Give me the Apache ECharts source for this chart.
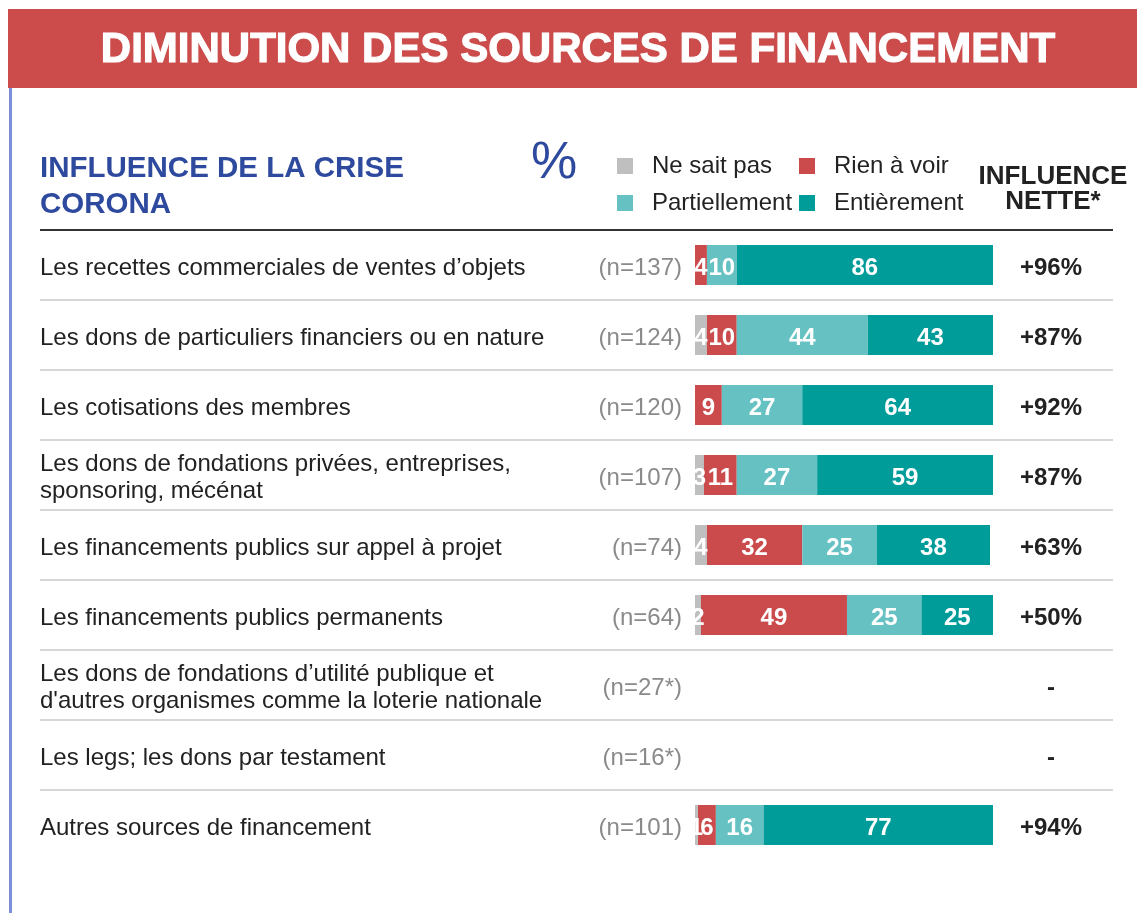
<!DOCTYPE html>
<html>
<head>
<meta charset="utf-8">
<script src="https://cdn.jsdelivr.net/npm/echarts@6/dist/echarts.min.js"></script>
<style>
  html, body { margin: 0; padding: 0; background: #ffffff; }
  #chart { width: 1137px; height: 913px; }
</style>
</head>
<body>
<div id="chart"></div>
<script>
// Sources de financement (lignes du tableau)
const categories = [
  'Les recettes commerciales de ventes d’objets',
  'Les dons de particuliers financiers ou en nature',
  'Les cotisations des membres',
  'Les dons de fondations privées, entreprises,\nsponsoring, mécénat',
  'Les financements publics sur appel à projet',
  'Les financements publics permanents',
  'Les dons de fondations d’utilité publique et\nd\'autres organismes comme la loterie nationale',
  'Les legs; les dons par testament',
  'Autres sources de financement'
];
const sampleSizes = ['(n=137)', '(n=124)', '(n=120)', '(n=107)', '(n=74)', '(n=64)', '(n=27*)', '(n=16*)', '(n=101)'];
const netInfluence = ['+96%', '+87%', '+92%', '+87%', '+63%', '+50%', '-', '-', '+94%'];

// Répartition des réponses (%)
const neSaitPas     = [null, 4, null, 3, 4, 2, null, null, 1];
const rienAVoir     = [4, 10, 9, 11, 32, 49, null, null, 6];
const partiellement = [10, 44, 27, 27, 25, 25, null, null, 16];
const entierement   = [86, 43, 64, 59, 38, 25, null, null, 77];

const seriesNames = ['Ne sait pas', 'Rien à voir', 'Partiellement', 'Entièrement'];
const seriesColors = ['#BFBFBF', '#CB4A4B', '#66C2C2', '#009C9A'];
const seriesData = [neSaitPas, rienAVoir, partiellement, entierement];

const FONT = '"Liberation Sans", Arial, Helvetica, sans-serif';
const BLUE = '#2E4A9E';

const chart = echarts.init(document.getElementById('chart'), null, { renderer: 'canvas' });

const separatorColors = ['#333333'].concat(categories.map(() => '#d6d6d6'));

const legendAt = (name, left, top) => ({
  data: [name],
  left: left,
  top: top,
  padding: 0,
  icon: 'rect',
  itemWidth: 16,
  itemHeight: 16,
  selectedMode: false,
  textStyle: { fontFamily: FONT, fontSize: 24, color: '#222', padding: [2, 0, 0, 14] }
});

// row text columns share the bar rows, set a few pixels lower for the text baseline
const textAxis = (data, position, label) => ({
  type: 'category', gridIndex: 2, data: data, inverse: true, position: position,
  axisLine: { show: false }, axisTick: { show: false }, splitLine: { show: false },
  axisLabel: Object.assign({ interval: 0, fontSize: 24, fontFamily: FONT }, label)
});

const option = {
  backgroundColor: '#ffffff',
  animation: false,
  textStyle: { fontFamily: FONT },
  legend: [
    legendAt('Ne sait pas', 617, 154),
    legendAt('Rien à voir', 799, 154),
    legendAt('Partiellement', 617, 191),
    legendAt('Entièrement', 799, 191)
  ],
  graphic: [
    { type: 'rect', shape: { x: 8, y: 9, width: 1129, height: 79 }, style: { fill: '#CC4B4B' }, z: 10 },
    { type: 'rect', shape: { x: 9, y: 88, width: 3, height: 825 }, style: { fill: '#7B8FDB' }, z: 10 },
    {
      type: 'text', x: 578, y: 50, z: 11,
      style: {
        text: 'DIMINUTION DES SOURCES DE FINANCEMENT',
        font: 'bold 42px ' + FONT, fill: '#ffffff',
        stroke: '#ffffff', lineWidth: 1.2,
        align: 'center', verticalAlign: 'middle'
      }
    },
    {
      type: 'text', x: 40, y: 169, z: 11,
      style: { text: 'INFLUENCE DE LA CRISE', font: 'bold 29.5px ' + FONT, fill: BLUE, align: 'left', verticalAlign: 'middle' }
    },
    {
      type: 'text', x: 40, y: 205, z: 11,
      style: { text: 'CORONA', font: 'bold 29.5px ' + FONT, fill: BLUE, align: 'left', verticalAlign: 'middle' }
    },
    {
      type: 'text', x: 554, y: 164, z: 11,
      style: { text: '%', font: '52px ' + FONT, fill: BLUE, align: 'center', verticalAlign: 'middle' }
    },
    {
      type: 'text', x: 1053, y: 177, z: 11,
      style: { text: 'INFLUENCE', font: 'bold 26px ' + FONT, fill: '#222', align: 'center', verticalAlign: 'middle' }
    },
    {
      type: 'text', x: 1053, y: 202, z: 11,
      style: { text: 'NETTE*', font: 'bold 26px ' + FONT, fill: '#222', align: 'center', verticalAlign: 'middle' }
    }
  ],
  grid: [
    // full-width rows, used for the separators
    { left: 40, right: 24, top: 230, bottom: 53 },
    // bar area
    { left: 695, right: 144, top: 230, bottom: 53 },
    // text columns
    { left: 695, right: 144, top: 233, bottom: 50 }
  ],
  xAxis: [
    { type: 'value', gridIndex: 0, show: false, min: 0, max: 100 },
    { type: 'value', gridIndex: 1, show: false, min: 0, max: 100 },
    { type: 'value', gridIndex: 2, show: false, min: 0, max: 100 }
  ],
  yAxis: [
    {
      type: 'category', gridIndex: 0, data: categories, inverse: true,
      axisLine: { show: false }, axisTick: { show: false }, axisLabel: { show: false },
      splitLine: { show: true, showMinLine: true, showMaxLine: false, lineStyle: { color: separatorColors, width: 2 } }
    },
    {
      type: 'category', gridIndex: 1, data: categories, inverse: true,
      show: false
    },
    textAxis(categories, 'left', { margin: 655, align: 'left', lineHeight: 27, color: '#222' }),
    textAxis(sampleSizes, 'left', { margin: 13, align: 'right', color: '#8a8a8a' }),
    textAxis(netInfluence, 'right', { margin: 58, align: 'center', fontWeight: 'bold', color: '#222' })
  ],
  series: seriesNames.map((name, i) => ({
    name: name,
    type: 'bar',
    stack: 'total',
    xAxisIndex: 1,
    yAxisIndex: 1,
    barWidth: 40,
    itemStyle: { color: seriesColors[i] },
    label: {
      show: true,
      position: 'inside',
      offset: [0, 3],
      color: '#ffffff',
      fontWeight: 'bold',
      fontSize: 24,
      fontFamily: FONT,
      formatter: p => (p.value ? String(p.value) : '')
    },
    data: seriesData[i]
  }))
};

chart.setOption(option);
</script>
</body>
</html>
